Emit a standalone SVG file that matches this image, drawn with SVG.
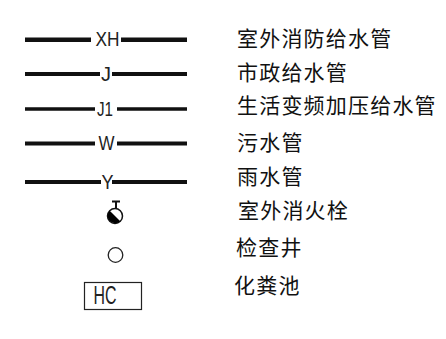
<svg xmlns="http://www.w3.org/2000/svg" width="446" height="339" viewBox="0 0 446 339">
<style>
.l{fill:none;stroke:#111;stroke-linecap:butt}
.c{font-family:"Liberation Sans",Arial,sans-serif;font-size:20px;fill:#222;text-anchor:middle}
.t{font-family:"Noto Sans CJK SC","Noto Sans CJK JP",sans-serif;font-size:21px;letter-spacing:1.200px;fill:#111}
</style>
<rect width="446" height="339" fill="#fff"/>
<g id="connectors">
<path class="l" stroke-width="4.500" d="M25 39.700H91M121 39.700H187"/>
<path class="l" stroke-width="4" d="M25 74H100M112 74H187"/>
<path class="l" stroke-width="3.500" d="M25 109H95M117 109H187"/>
<path class="l" stroke-width="4" d="M25 143.500H95M117 143.500H187"/>
<path class="l" stroke-width="4" d="M25 182H101M112 182H187"/>
</g>
<g id="xh"><text class="c" x="107.500" y="46" textLength="24" lengthAdjust="spacingAndGlyphs">XH</text><text class="t" x="237" y="46">室外消防给水管</text></g>
<g id="j"><text class="c" x="106" y="81">J</text><text class="t" x="237" y="80">市政给水管</text></g>
<g id="j1"><text class="c" x="105" y="116" textLength="16" lengthAdjust="spacingAndGlyphs">J1</text><text class="t" x="237" y="112.500">生活变频加压给水管</text></g>
<g id="w"><text class="c" x="106.500" y="150" textLength="16" lengthAdjust="spacingAndGlyphs">W</text><text class="t" x="237" y="150">污水管</text></g>
<g id="y"><text class="c" x="107.500" y="188.500" textLength="12" lengthAdjust="spacingAndGlyphs">Y</text><text class="t" x="237" y="184">雨水管</text></g>
<g id="hydrant">
<path d="M112 201.500H120M116 201.500V208.500" fill="none" stroke="#111" stroke-width="2"/>
<circle cx="115" cy="216" r="7.500" fill="#fff" stroke="#111" stroke-width="1.500"/>
<path d="M109.700 210.700A7.500 7.500 0 0 0 120.300 221.300Z" fill="#000"/>
<text class="t" x="238" y="217.500">室外消火栓</text>
</g>
<g id="well">
<circle cx="115.500" cy="255" r="7.300" fill="#fff" stroke="#222" stroke-width="1.300"/>
<text class="t" x="236" y="255">检查井</text>
</g>
<g id="septic">
<rect x="84.500" y="282.500" width="57" height="27" fill="#fff" stroke="#222" stroke-width="1.200"/>
<text class="c" x="105" y="304" style="font-size:26px" textLength="23" lengthAdjust="spacingAndGlyphs">HC</text>
<text class="t" x="234" y="293">化粪池</text>
</g>
</svg>
